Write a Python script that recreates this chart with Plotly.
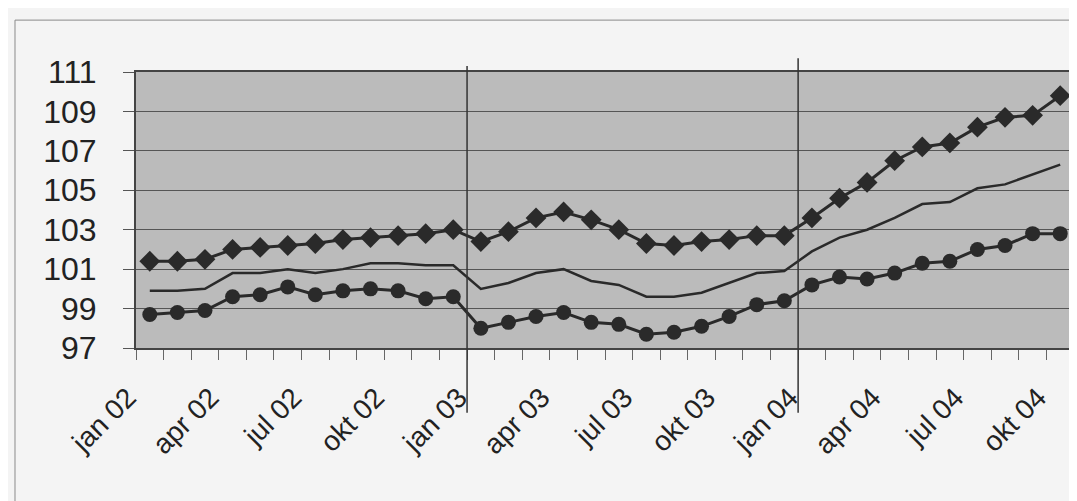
import plotly.graph_objects as go

# Months jan 02 .. okt 04
months = [
    "jan 02", "feb 02", "mar 02", "apr 02", "mai 02", "jun 02",
    "jul 02", "aug 02", "sep 02", "okt 02", "nov 02", "des 02",
    "jan 03", "feb 03", "mar 03", "apr 03", "mai 03", "jun 03",
    "jul 03", "aug 03", "sep 03", "okt 03", "nov 03", "des 03",
    "jan 04", "feb 04", "mar 04", "apr 04", "mai 04", "jun 04",
    "jul 04", "aug 04", "sep 04", "okt 04",
]

upper = [
    101.4, 101.4, 101.5, 102.0, 102.1, 102.2, 102.3, 102.5, 102.6, 102.7, 102.8, 103.0,
    102.4, 102.9, 103.6, 103.9, 103.5, 103.0, 102.3, 102.2, 102.4, 102.5, 102.7, 102.7,
    103.6, 104.6, 105.4, 106.5, 107.2, 107.4, 108.2, 108.7, 108.8, 109.8,
]
middle = [
    99.9, 99.9, 100.0, 100.8, 100.8, 101.0, 100.8, 101.0, 101.3, 101.3, 101.2, 101.2,
    100.0, 100.3, 100.8, 101.0, 100.4, 100.2, 99.6, 99.6, 99.8, 100.3, 100.8, 100.9,
    101.9, 102.6, 103.0, 103.6, 104.3, 104.4, 105.1, 105.3, 105.8, 106.3,
]
lower = [
    98.7, 98.8, 98.9, 99.6, 99.7, 100.1, 99.7, 99.9, 100.0, 99.9, 99.5, 99.6,
    98.0, 98.3, 98.6, 98.8, 98.3, 98.2, 97.7, 97.8, 98.1, 98.6, 99.2, 99.4,
    100.2, 100.6, 100.5, 100.8, 101.3, 101.4, 102.0, 102.2, 102.8, 102.8,
]

y_ticks = [97, 99, 101, 103, 105, 107, 109, 111]
label_months = months[::3]
# year breaks marked by hand-drawn vertical lines
break_months = ["jan 03", "jan 04"]

ink = "#2a2a2a"
x = list(range(len(months)))

fig = go.Figure()
fig.add_trace(go.Scatter(
    x=x, y=upper, mode="lines+markers",
    line=dict(color=ink, width=3),
    marker=dict(symbol="diamond", size=16, color=ink),
))
fig.add_trace(go.Scatter(
    x=x, y=middle, mode="lines",
    line=dict(color=ink, width=2.5),
))
fig.add_trace(go.Scatter(
    x=x, y=lower, mode="lines+markers",
    line=dict(color=ink, width=3),
    marker=dict(symbol="circle", size=15, color=ink),
))

# vertical lines at start of each new year
for m, top in zip(break_months, [1.022, 1.05]):
    xb = months.index(m) - 0.5
    fig.add_shape(type="line", xref="x", yref="paper",
                  x0=xb, x1=xb, y0=-0.235, y1=top,
                  line=dict(color="#333333", width=1.5))

# outer frame of the scanned figure
fig.add_shape(type="rect", xref="paper", yref="paper",
              x0=-0.129, x1=1.03, y0=-0.62, y1=1.188,
              line=dict(color="#8a8a8a", width=1), layer="below")

fig.update_layout(
    width=1077, height=501,
    margin=dict(l=128, r=11, t=64, b=161),
    paper_bgcolor="#f4f4f4",
    plot_bgcolor="#bbbbbb",
    showlegend=False,
    font=dict(family="Liberation Sans, Arial, sans-serif", color="#222222"),
    xaxis=dict(
        range=[-0.5, len(months) - 0.5],
        tickvals=[months.index(m) for m in label_months],
        ticktext=label_months,
        tickangle=-45,
        tickfont=dict(size=28),
        ticks="",
        showgrid=False, zeroline=False,
        showline=True, linecolor="#444444", linewidth=2, mirror=True,
        minor=dict(tick0=-0.5, dtick=1, ticks="outside", ticklen=10,
                   tickcolor="#666666", tickwidth=1, showgrid=False),
        ticklabelstandoff=20,
        ticklabelshift=-22,
        automargin=False,
    ),
    yaxis=dict(
        range=[97, 111],
        tickvals=y_ticks,
        tickfont=dict(size=32),
        ticks="outside", ticklen=11, tickcolor="#555555",
        showgrid=True, gridcolor="#555555", gridwidth=1,
        zeroline=False,
        showline=True, linecolor="#444444", linewidth=2, mirror=True,
        ticklabelstandoff=20,
        automargin=False,
    ),
)

fig.write_html("out.html")
